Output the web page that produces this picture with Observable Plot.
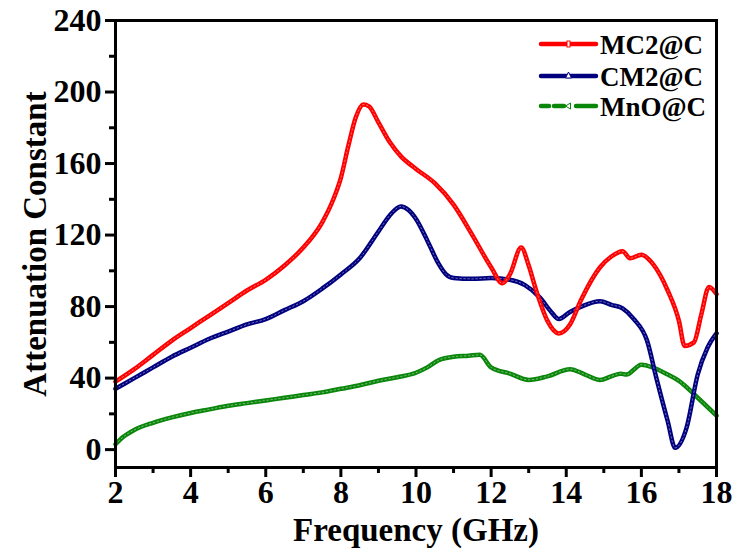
<!DOCTYPE html>
<html>
<head>
<meta charset="utf-8">
<script src="https://cdn.jsdelivr.net/npm/d3@7"></script>
<script src="https://cdn.jsdelivr.net/npm/@observablehq/plot@0.6"></script>
<style>
  html, body { margin: 0; padding: 0; background: #fff; }
  #wrap { position: relative; width: 737px; height: 554px; }
  #legend { position: absolute; left: 0; top: 0; pointer-events: none; }
  svg text, svg tspan {
    font-family: "Liberation Serif", "Times New Roman", Times, serif !important;
    font-weight: bold !important;
  }
</style>
</head>
<body>
<div id="wrap"></div>
<script>
// Attenuation constant vs. frequency for three composites

const freqMC2 = [2, 2.5, 3, 3.5, 4, 4.5, 5, 5.5, 6, 6.5, 7, 7.5, 7.8, 8, 8.2, 8.4, 8.6, 8.75, 9, 9.3, 9.6, 10, 10.5, 11, 11.5, 12, 12.3, 12.5, 12.8, 13, 13.2, 13.5, 13.8, 14.1, 14.4, 14.9, 15.2, 15.5, 15.7, 16, 16.3, 16.7, 17, 17.15, 17.4, 17.6, 17.8, 18];
const attMC2  = [38, 45, 53, 61, 68, 75, 82, 89, 95, 103, 113, 127, 140, 152, 170, 186, 193, 192, 183, 172, 164, 157, 149, 137, 120, 102, 93, 98, 113, 103, 89, 72, 65, 70, 84, 102, 108, 111, 107, 109, 104, 89, 72, 58, 60, 76, 91, 87];

const freqCM2 = [2, 2.5, 3, 3.5, 4, 4.5, 5, 5.5, 6, 6.5, 7, 7.5, 8, 8.5, 9, 9.3, 9.6, 9.8, 10, 10.3, 10.6, 10.8, 11, 11.5, 12, 12.5, 12.9, 13.3, 13.6, 13.8, 14.1, 14.4, 14.9, 15.2, 15.5, 15.8, 16.15, 16.4, 16.7, 16.9, 17.2, 17.5, 17.76, 18];
const attCM2  = [34, 40, 46, 52, 57, 62, 66, 70, 73, 78, 83, 90, 98, 107, 122, 131, 136, 134, 129, 117, 104, 98, 96, 95.5, 96, 95, 92, 85, 77, 73, 77, 80, 83, 81, 79, 73, 61, 40, 16, 1, 12, 42, 57, 65];

const freqMnO = [2, 2.2, 2.5, 3, 3.5, 4, 4.5, 5, 5.5, 6, 6.5, 7, 7.5, 8, 8.5, 9, 9.5, 10, 10.3, 10.6, 11, 11.4, 11.7, 12, 12.5, 13, 13.5, 14.1, 14.5, 14.9, 15.2, 15.45, 15.6, 16, 16.3, 16.7, 17, 17.5, 18];
const attMnO  = [3, 7, 11, 15, 18, 20.5, 22.5, 24.5, 26, 27.5, 29, 30.5, 32, 34, 36, 38.5, 40.5, 43, 46, 50, 52, 52.5, 53, 46, 42.5, 39, 41, 45, 42, 39, 41, 42.5, 42, 47.5, 46, 42, 38.5, 29, 19];

const seriesNames  = ["MC2@C", "CM2@C", "MnO@C"];
const seriesColors = ["#ff0000", "#00007f", "#0a870a"];

const xMajor = [2, 4, 6, 8, 10, 12, 14, 16, 18];
const xMinor = [3, 5, 7, 9, 11, 13, 15, 17];
const yMajor = [0, 40, 80, 120, 160, 200, 240];
const yMinor = [20, 60, 100, 140, 180, 220];

const toRows = (fs, vs) => fs.map((f, i) => ({f, a: vs[i]}));
const series = [
  toRows(freqMC2, attMC2),
  toRows(freqCM2, attCM2),
  toRows(freqMnO, attMnO)
];

const font = "Liberation Serif";

// draw order: green, blue, red on top
const curveMarks = [2, 1, 0].flatMap(k => [
  Plot.line(series[k], {x: "f", y: "a", stroke: seriesColors[k], strokeWidth: 4.5, curve: "monotone-x"}),
  Plot.line(series[k], {x: "f", y: "a", stroke: "white", strokeOpacity: 0.45, strokeWidth: 1, strokeDasharray: "1.5,2.5", curve: "monotone-x"})
]);

const chart = Plot.plot({
  width: 737,
  height: 554,
  marginLeft: 115,
  marginRight: 21,
  marginTop: 20,
  marginBottom: 87,
  style: {fontFamily: font, fontWeight: "bold", color: "black", background: "white"},
  x: {domain: [2, 18]},
  y: {domain: [-10, 240]},
  marks: [
    ...curveMarks,
    Plot.axisX({ticks: xMajor, tickSize: 10, strokeWidth: 3, tickPadding: 3, fontSize: 32, fontFamily: font, fontWeight: "bold", label: null, tickFormat: d => String(d)}),
    Plot.axisX({ticks: xMinor, tickSize: 6, strokeWidth: 3, text: null, label: null}),
    Plot.axisY({ticks: yMajor, tickSize: 10, strokeWidth: 3, tickPadding: 4, fontSize: 32, fontFamily: font, fontWeight: "bold", label: null, tickFormat: d => String(d)}),
    Plot.axisY({ticks: yMinor, tickSize: 6, strokeWidth: 3, text: null, label: null}),
    Plot.frame({stroke: "black", strokeWidth: 3}),
    Plot.text(["Frequency (GHz)"], {frameAnchor: "bottom", textAnchor: "middle", lineAnchor: "middle", dy: 63, fontSize: 33, fontFamily: font, fontWeight: "bold", fill: "black"}),
    Plot.text(["Attenuation Constant"], {frameAnchor: "left", textAnchor: "middle", lineAnchor: "middle", dx: -80, rotate: -90, fontSize: 33, fontFamily: font, fontWeight: "bold", fill: "black"})
  ]
});

const wrap = document.getElementById("wrap");
wrap.appendChild(chart);

// legend in the upper-right corner of the plot area
const ns = "http://www.w3.org/2000/svg";
const leg = document.createElementNS(ns, "svg");
leg.setAttribute("id", "legend");
leg.setAttribute("width", 737);
leg.setAttribute("height", 554);
const rowY = [44, 76, 106];
const x0 = 541, x1 = 596;
seriesNames.forEach((name, i) => {
  const c = seriesColors[i];
  const y = rowY[i];
  const line = document.createElementNS(ns, "line");
  line.setAttribute("x1", x0); line.setAttribute("x2", x1);
  line.setAttribute("y1", y); line.setAttribute("y2", y);
  line.setAttribute("stroke", c);
  line.setAttribute("stroke-width", 4.5);
  line.setAttribute("stroke-linecap", "round");
  if (i === 2) line.setAttribute("stroke-dasharray", "8,5,10,12,16,0");
  leg.appendChild(line);
  // small open marker in the middle of the sample
  const mx = (x0 + x1) / 2;
  let m;
  if (i === 0) {
    m = document.createElementNS(ns, "rect");
    m.setAttribute("x", mx - 1.5); m.setAttribute("y", y - 3);
    m.setAttribute("width", 3); m.setAttribute("height", 6);
  } else if (i === 1) {
    m = document.createElementNS(ns, "path");
    m.setAttribute("d", `M${mx - 3},${y + 2} L${mx},${y - 4} L${mx + 3},${y + 2} Z`);
  } else {
    m = document.createElementNS(ns, "path");
    m.setAttribute("d", `M${mx - 3},${y} L${mx + 2},${y - 3} L${mx + 2},${y + 3} Z`);
  }
  m.setAttribute("fill", "white");
  m.setAttribute("stroke", c);
  m.setAttribute("stroke-width", 1);
  leg.appendChild(m);
  const t = document.createElementNS(ns, "text");
  t.setAttribute("x", 600);
  t.setAttribute("y", y + 9.5);
  t.setAttribute("font-size", 27);
  t.textContent = name;
  leg.appendChild(t);
});
wrap.appendChild(leg);
</script>
</body>
</html>
